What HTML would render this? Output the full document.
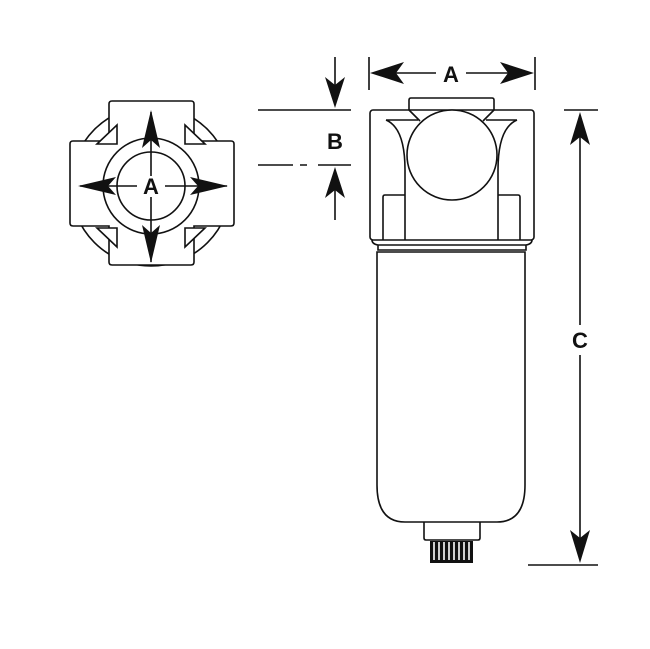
<!DOCTYPE html><html><head><style>body{margin:0;background:#fff}</style></head><body>
<svg width="650" height="644" viewBox="0 0 650 644" xmlns="http://www.w3.org/2000/svg" font-family="Liberation Sans, sans-serif">
<defs><clipPath id="cor"><path d="M0 0H650V644H0Z M109 101H194V141H234V226H194V265H109V226H70V141H109Z" clip-rule="evenodd"/></clipPath></defs>
<g fill="none" stroke="#111" stroke-width="1.6">
<!-- left view -->
<circle cx="151" cy="186" r="80" clip-path="url(#cor)"/>
<path d="M112 101H191Q194 101 194 104V141H231Q234 141 234 144V223Q234 226 231 226H194V262Q194 265 191 265H112Q109 265 109 262V226H73Q70 226 70 223V144Q70 141 73 141H109V104Q109 101 112 101Z" fill="#fff"/>
<path d="M117 125V144H97Z M185 125V144H205Z M117 247V228H97Z M185 247V228H205Z" fill="#fff"/>
<circle cx="151" cy="186" r="48" fill="#fff"/>
<circle cx="151" cy="186" r="34"/>
<path d="M151 112V176 M151 197V262 M80 186H137 M165 186H227"/>
<!-- right view head -->
<path d="M409 110V100Q409 98 411 98H492Q494 98 494 100V110" fill="#fff"/>
<rect x="370" y="110" width="164" height="130" rx="3"/>
<path d="M409 110L420 121 M494 110L483 121"/>
<path d="M386 120H418 M486 120H517 M386 120Q405 128 405 170V240 M517 120Q498 128 498 170V240"/>
<path d="M405 195H385Q383 195 383 197V240 M498 195H518Q520 195 520 197V240"/>
<circle cx="452" cy="155" r="45" fill="#fff"/>
<path d="M372 240Q372 244 378 245H526Q532 244 532 240 M378 245V250H526V245"/>
<!-- bowl -->
<path d="M377 252V485Q377 522 405 522H497Q525 522 525 485V252Z"/>
<path d="M424 522V538Q424 540 426 540H478Q480 540 480 538V522"/>
<!-- dims -->
<path d="M369 57V90 M535 57V90 M385 73H436 M466 73H519"/>
<path d="M258 110H351 M258 165H293 M300 165H307 M318 165H351 M335 57V100 M335 176V220"/>
<path d="M564 110H598 M528 565H598 M580 125V325 M580 355V550"/>
</g>
<rect x="430" y="541" width="43" height="22" fill="#111"/>
<g stroke="#fff" stroke-width="1.6"><path d="M434 542V560M439 542V560M444 542V560M449 542V560M454 542V560M459 542V560M464 542V560M469 542V560"/></g>
<g fill="#111">
<path d="M151 110L142 148L151 140L160 148Z M151 263L142 225L151 233L160 225Z M78 186L116 177L108 186L116 195Z M228 186L190 177L198 186L190 195Z"/>
<path d="M370 73L404 62L396 73L404 84Z M534 73L500 62L508 73L500 84Z"/>
<path d="M335 108L325 77L335 85L345 77Z M335 167L325 198L335 190L345 198Z"/>
<path d="M580 112L570 145L580 137L590 145Z M580 563L570 530L580 538L590 530Z"/>
</g>
<g font-weight="bold" font-size="22" text-anchor="middle" fill="#111">
<text x="151" y="194">A</text><text x="451" y="82">A</text><text x="335" y="149">B</text><text x="580" y="348">C</text>
</g>
</svg></body></html>
